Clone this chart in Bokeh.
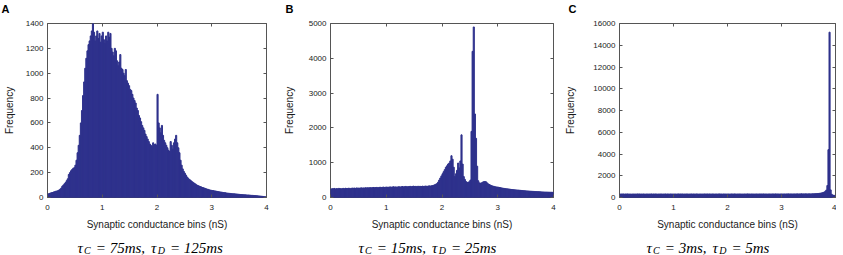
import numpy as np
from bokeh.plotting import figure
from bokeh.layouts import row, column
from bokeh.models import Range1d, LinearAxis, FixedTicker
from bokeh.core.properties import value
from bokeh.embed import file_html
from bokeh.resources import INLINE

# ---------------- data ----------------
x_ticks = [0, 1, 2, 3, 4]
bin_edges = np.linspace(0, 4, 201)  # 200 bins of 0.02 nS

freq_a = [
    28, 32, 35, 38, 40, 44, 46, 50, 52, 55,
    60, 66, 75, 90, 100, 110, 120, 135, 150, 185,
    200, 215, 225, 235, 240, 260, 300, 360, 420, 500,
    600, 700, 820, 930, 1040, 1120, 1180, 1230, 1260, 1300,
    1340, 1400, 1330, 1260, 1300, 1340, 1280, 1320, 1250, 1300,
    1330, 1270, 1240, 1300, 1260, 1330, 1290, 1320, 1200, 1170,
    1140, 1200, 1180, 1100, 1060, 1090, 1150, 1040, 1030, 1000,
    980, 1030, 940, 920, 900, 870, 860, 830, 800, 780,
    760, 720, 700, 660, 640, 610, 580, 560, 540, 510,
    490, 470, 450, 430, 420, 410, 440, 425, 430, 420,
    830, 600, 560, 520, 580, 500, 460, 440, 420, 400,
    380, 370, 450, 420, 390, 440, 470, 500, 440, 400,
    360, 300, 260, 230, 210, 195, 180, 165, 155, 145,
    140, 132, 125, 118, 112, 106, 100, 96, 92, 88,
    85, 80, 78, 75, 72, 68, 66, 63, 60, 58,
    56, 55, 53, 52, 50, 48, 47, 45, 44, 42,
    40, 39, 38, 36, 35, 34, 33, 32, 31, 30,
    30, 29, 28, 27, 26, 25, 24, 24, 23, 22,
    22, 21, 20, 20, 19, 18, 17, 17, 16, 16,
    15, 14, 13, 12, 11, 10, 9, 8, 7, 6,
]

freq_b = [
    240, 255, 250, 260, 245, 255, 250, 262, 258, 250,
    255, 262, 250, 265, 258, 260, 268, 255, 262, 270,
    265, 270, 262, 275, 268, 272, 265, 278, 270, 275,
    272, 280, 275, 282, 276, 285, 278, 282, 288, 280,
    285, 290, 282, 288, 295, 286, 292, 298, 290, 295,
    300, 292, 298, 305, 296, 302, 308, 300, 305, 298,
    305, 312, 300, 308, 315, 305, 310, 318, 308, 312,
    315, 320, 310, 318, 325, 315, 320, 312, 322, 318,
    320, 315, 325, 318, 322, 330, 320, 325, 335, 328,
    335, 340, 350, 365, 380, 400, 440, 500, 560, 620,
    680, 740, 800, 870, 910, 960, 990, 1050, 1200, 1100,
    870, 600, 680, 780, 990, 850, 1050, 1800, 960, 600,
    520, 460, 430, 440, 450, 500, 1900, 4200, 4900, 2400,
    1700, 900, 480, 420, 410, 420, 440, 455, 460, 450,
    420, 390, 370, 355, 340, 330, 320, 312, 305, 300,
    295, 288, 280, 275, 268, 262, 258, 252, 248, 245,
    240, 235, 230, 228, 224, 220, 218, 214, 212, 208,
    205, 202, 200, 196, 194, 190, 188, 185, 182, 180,
    178, 176, 174, 172, 170, 168, 166, 164, 162, 160,
    160, 158, 156, 155, 154, 152, 151, 150, 150, 148,
]

freq_c = [
    310, 325, 318, 330, 305, 322, 315, 328, 312, 320,
    318, 308, 326, 315, 322, 310, 330, 316, 324, 312,
    320, 314, 328, 306, 318, 325, 312, 322, 316, 330,
    308, 322, 315, 326, 318, 310, 324, 317, 329, 313,
    321, 316, 327, 309, 323, 318, 312, 328, 315, 322,
    317, 326, 311, 320, 329, 314, 322, 318, 325, 310,
    324, 316, 330, 313, 321, 319, 327, 312, 323, 317,
    315, 328, 320, 311, 326, 318, 322, 314, 329, 320,
    318, 324, 312, 327, 316, 321, 330, 315, 319, 325,
    313, 322, 328, 317, 320, 311, 326, 319, 323, 316,
    325, 318, 312, 329, 321, 315, 327, 320, 314, 324,
    319, 328, 316, 322, 313, 326, 320, 317, 330, 318,
    322, 315, 327, 319, 324, 312, 329, 321, 316, 326,
    320, 323, 318, 330, 314, 325, 321, 317, 328, 322,
    319, 327, 324, 316, 331, 320, 326, 323, 318, 329,
    325, 321, 330, 318, 327, 324, 332, 320, 328, 326,
    323, 331, 327, 325, 334, 322, 330, 328, 335, 326,
    332, 329, 336, 331, 328, 338, 333, 330, 340, 335,
    338, 345, 352, 360, 372, 388, 405, 428, 455, 500,
    560, 680, 1100, 4400, 15200, 700, 300, 220, 200, 190,
]

yticks_a = [0, 200, 400, 600, 800, 1000, 1200, 1400]
yticks_b = [0, 1000, 2000, 3000, 4000, 5000]
yticks_c = [0, 2000, 4000, 6000, 8000, 10000, 12000, 14000, 16000]

letters = ["A", "B", "C"]
x_label = "Synaptic conductance bins (nS)"
y_label = "Frequency"
tau_c = ["= 75ms,", "= 15ms,", "= 3ms,"]
tau_d = ["= 125ms", "= 25ms", "= 5ms"]

# ---------------- style ----------------
BAR = "#2E318C"
FRAME = "#555555"
TXT = "#1a1a1a"
SANS = "Liberation Sans"
SERIF = "Liberation Serif"

W = {" ": .25, "=": .675, ",": .25, "m": .722, "s": .389, "τ": .44,
     "C": .667, "D": .722}

TOP_H, MAIN_H, TAU_H = 20, 217, 18


def tw(s, size):
    return sum(W.get(ch, .5) for ch in s) * size


def strip(width, height):
    s = figure(width=width, height=height, x_range=Range1d(0, width),
               y_range=Range1d(0, height), min_border=0,
               x_axis_type=None, y_axis_type=None,
               output_backend="svg", toolbar_location=None)
    s.grid.visible = False
    s.outline_line_color = None
    return s


def panel(vals, ymax, yticks, width, mbl, mbr, ylab_standoff):
    p = figure(width=width, height=MAIN_H,
               x_range=Range1d(0, 4), y_range=Range1d(0, ymax),
               output_backend="svg", toolbar_location=None,
               min_border_left=mbl, min_border_right=mbr,
               min_border_top=3, min_border_bottom=40,
               x_axis_label=x_label, y_axis_label=y_label)
    p.quad(left=bin_edges[:-1], right=bin_edges[1:], bottom=0, top=vals,
           fill_color=BAR, line_color=BAR, line_width=1)
    p.grid.visible = False
    p.outline_line_color = FRAME
    p.outline_line_width = 1

    p.xaxis.ticker = FixedTicker(ticks=x_ticks)
    p.yaxis.ticker = FixedTicker(ticks=yticks)
    for ax in (p.xaxis[0], p.yaxis[0]):
        ax.axis_line_color = None
        ax.major_tick_in = 3
        ax.major_tick_out = 0
        ax.major_tick_line_color = FRAME
        ax.minor_tick_line_color = None
        ax.major_label_text_font = SANS
        ax.major_label_text_font_size = "8px"
        ax.major_label_text_color = TXT
        ax.axis_label_text_font = SANS
        ax.axis_label_text_font_size = "10px"
        ax.axis_label_text_font_style = "normal"
        ax.axis_label_text_color = TXT
    p.xaxis.major_label_standoff = 7
    p.xaxis.axis_label_standoff = 6
    p.yaxis.major_label_standoff = 4
    p.yaxis.axis_label_standoff = ylab_standoff

    for loc, tk in (("above", x_ticks), ("right", yticks)):
        ax = LinearAxis(ticker=FixedTicker(ticks=tk),
                        major_label_text_font_size="0px",
                        major_label_standoff=0,
                        major_tick_in=3, major_tick_out=0,
                        major_tick_line_color=FRAME,
                        minor_tick_line_color=None, axis_line_color=None)
        p.add_layout(ax, loc)
    return p


def letter_strip(width, letter, lx):
    s = strip(width, TOP_H)
    s.text(x=[lx], y=[TOP_H - 2], text=[letter], text_baseline="top",
           text_align="left", text_font=value(SANS), text_font_size="11px",
           text_font_style="bold", text_color="black")
    return s


def tau_strip(width, eq_c, eq_d, tx):
    s = strip(width, TAU_H)
    big, small = 15, 10
    # (text, size, vertical shift, gap after)
    pieces = [("τ", big, 0, 0), ("C", small, -3, 5), (eq_c, big, 0, 6),
              ("τ", big, 0, 0), ("D", small, -3, 5), (eq_d, big, 0, 0)]
    dx = tx
    for txt, size, dy, gap in pieces:
        s.text(x=[dx], y=[8 + dy], text=[txt], text_baseline="alphabetic",
               text_align="left", text_font=value(SERIF),
               text_font_size=f"{size}px", text_font_style="italic",
               text_color="black")
        dx += tw(txt, size) + gap
    return s


widths = [280, 282, 274]
pa = panel(freq_a, 1400, yticks_a, widths[0], 44, 14, 8)
pb = panel(freq_b, 5000, yticks_b, widths[1], 48, 9, 11)
pc = panel(freq_c, 16000, yticks_c, widths[2], 56, 1, 14)

tops = [letter_strip(widths[0], letters[0], 1),
        letter_strip(widths[1], letters[1], 5),
        letter_strip(widths[2], letters[2], 6)]
taus = [tau_strip(widths[0], tau_c[0], tau_d[0], 77),
        tau_strip(widths[1], tau_c[1], tau_d[1], 78),
        tau_strip(widths[2], tau_c[2], tau_d[2], 84)]

layout = column(row(*tops, spacing=0), row(pa, pb, pc, spacing=0),
                row(*taus, spacing=0), spacing=0)
open("out.html", "w").write(file_html(layout, INLINE))
